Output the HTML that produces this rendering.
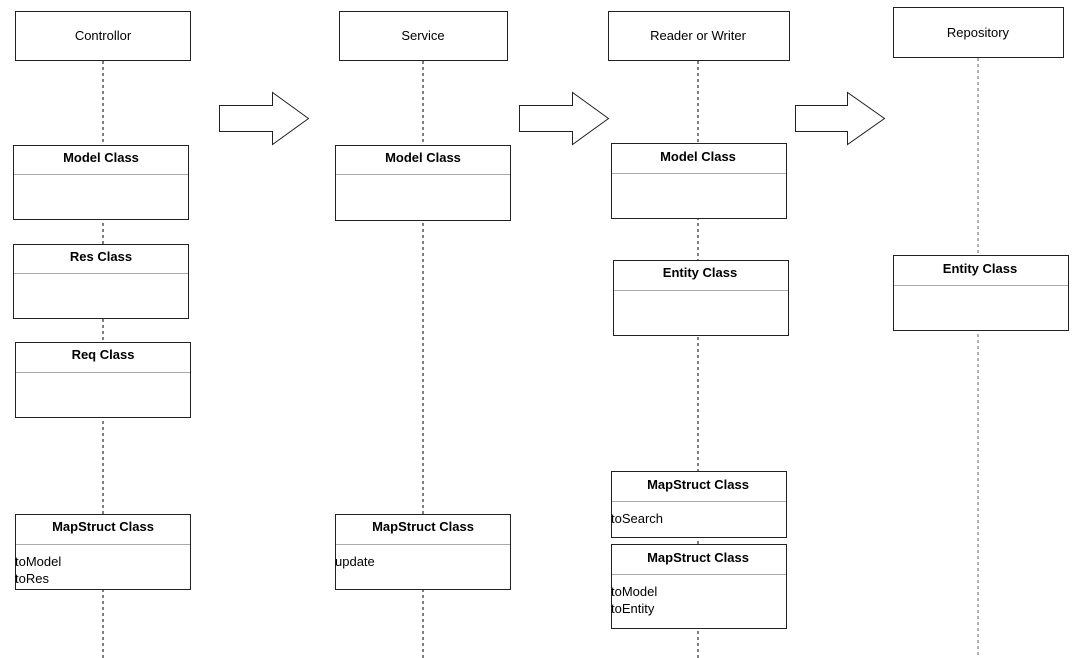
<!DOCTYPE html>
<html><head><meta charset="utf-8"><style>
html,body{margin:0;padding:0;background:#fff;}
svg{display:block;}
text{font-family:"Liberation Sans",Arial,sans-serif;fill:#000;}
.h{font-size:13px;}
.b{font-size:13px;font-weight:bold;}
.m{font-size:13px;}
</style></head><body>
<svg width="1083" height="658" viewBox="0 0 1083 658" xmlns="http://www.w3.org/2000/svg">
<g stroke="#000" stroke-width="1" stroke-dasharray="3,3" fill="none">
<line x1="103" y1="61" x2="103" y2="658"/>
<line x1="423" y1="61" x2="423" y2="658"/>
<line x1="698" y1="61" x2="698" y2="658"/>
<line x1="978" y1="58" x2="978" y2="658" stroke="#666"/>
</g>
<g fill="#fff" stroke="#222" stroke-width="1">
<rect x="15.5" y="11.5" width="175" height="49"/>
<rect x="339.5" y="11.5" width="168" height="49"/>
<rect x="608.5" y="11.5" width="181" height="49"/>
<rect x="893.5" y="7.5" width="170" height="50"/>
<path d="M219.5 105.5 H272.5 V92.5 L308.5 118.5 L272.5 144.5 V131.5 H219.5 Z"/>
<path d="M519.5 105.5 H572.5 V92.5 L608.5 118.5 L572.5 144.5 V131.5 H519.5 Z"/>
<path d="M795.5 105.5 H847.5 V92.5 L884.5 118.5 L847.5 144.5 V131.5 H795.5 Z"/>
<rect x="13.5" y="145.5" width="175" height="74"/>
<rect x="13.5" y="244.5" width="175" height="74"/>
<rect x="15.5" y="342.5" width="175" height="75"/>
<rect x="15.5" y="514.5" width="175" height="75"/>
<rect x="335.5" y="145.5" width="175" height="75"/>
<rect x="335.5" y="514.5" width="175" height="75"/>
<rect x="611.5" y="143.5" width="175" height="75"/>
<rect x="613.5" y="260.5" width="175" height="75"/>
<rect x="611.5" y="471.5" width="175" height="66"/>
<rect x="611.5" y="544.5" width="175" height="84"/>
<rect x="893.5" y="255.5" width="175" height="75"/>
</g>
<g stroke="#aaa" stroke-width="1">
<line x1="14" y1="174.5" x2="188" y2="174.5"/>
<line x1="14" y1="273.5" x2="188" y2="273.5"/>
<line x1="16" y1="372.5" x2="190" y2="372.5"/>
<line x1="16" y1="544.5" x2="190" y2="544.5"/>
<line x1="336" y1="174.5" x2="510" y2="174.5"/>
<line x1="336" y1="544.5" x2="510" y2="544.5"/>
<line x1="612" y1="173.5" x2="786" y2="173.5"/>
<line x1="614" y1="290.5" x2="788" y2="290.5"/>
<line x1="612" y1="501.5" x2="786" y2="501.5"/>
<line x1="612" y1="574.5" x2="786" y2="574.5"/>
<line x1="894" y1="285.5" x2="1068" y2="285.5"/>
</g>
<g text-anchor="middle">
<text class="h" x="103" y="40">Controllor</text>
<text class="h" x="423" y="40">Service</text>
<text class="h" x="698" y="40">Reader or Writer</text>
<text class="h" x="978" y="37">Repository</text>
<text class="b" x="101" y="162">Model Class</text>
<text class="b" x="101" y="261">Res Class</text>
<text class="b" x="103" y="359">Req Class</text>
<text class="b" x="103" y="531">MapStruct Class</text>
<text class="b" x="423" y="162">Model Class</text>
<text class="b" x="423" y="531">MapStruct Class</text>
<text class="b" x="698" y="161">Model Class</text>
<text class="b" x="700" y="277">Entity Class</text>
<text class="b" x="698" y="489">MapStruct Class</text>
<text class="b" x="698" y="562">MapStruct Class</text>
<text class="b" x="980" y="273">Entity Class</text>
</g>
<g>
<text class="m" x="15" y="566">toModel</text>
<text class="m" x="15" y="583">toRes</text>
<text class="m" x="335" y="566">update</text>
<text class="m" x="611" y="523">toSearch</text>
<text class="m" x="611" y="596">toModel</text>
<text class="m" x="611" y="613">toEntity</text>
</g>
</svg>
</body></html>
